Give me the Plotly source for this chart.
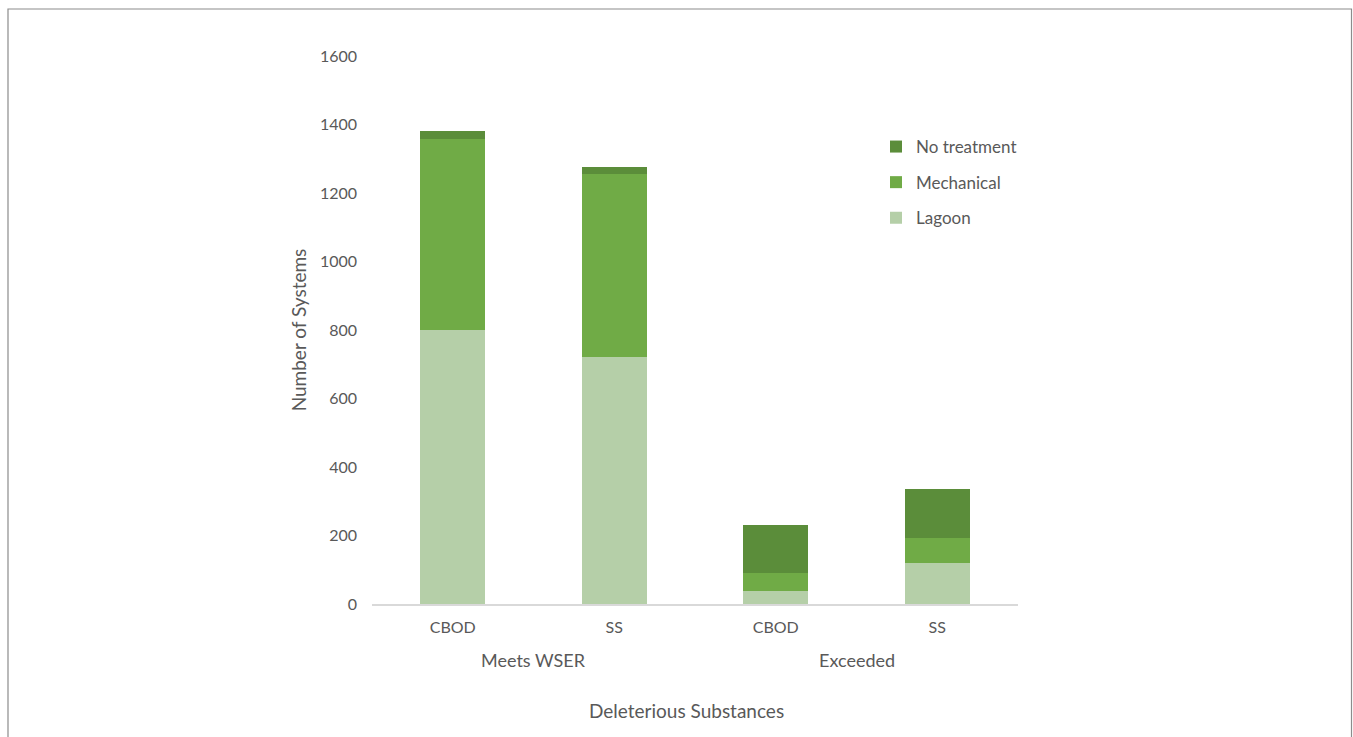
import plotly.graph_objects as go

# Number of wastewater systems by treatment type, grouped by compliance status
groups = ["Meets WSER", "Meets WSER", "Exceeded", "Exceeded"]
substances = ["CBOD", "SS", "CBOD", "SS"]

lagoon = [800, 720, 38, 120]
mechanical = [558, 535, 52, 72]
no_treatment = [24, 22, 140, 143]

y_ticks = [0, 200, 400, 600, 800, 1000, 1200, 1400, 1600]

W, H = 1353, 737
L, R, T, B = 372, 1018, 56, 604  # plot area edges in pixels

FONT = "Lato"
GREY = "#595959"


def px_x(p):
    return (p - L) / (R - L)


def px_y(p):
    return (B - p) / (B - T)


# one category per (group, substance) pair; only the substance is shown as tick text
keys = [f"{g}|{s}" for g, s in zip(groups, substances)]

fig = go.Figure()
series = [
    ("Lagoon", lagoon, "#B5CFA8", 3),
    ("Mechanical", mechanical, "#70AB46", 2),
    ("No treatment", no_treatment, "#5B8D3A", 1),
]
for name, vals, color, rank in series:
    fig.add_trace(go.Bar(
        x=keys, y=vals, name=name, legendgroup=name, legendrank=rank,
        marker=dict(color=color, line=dict(width=0)),
        hoverinfo="y+name",
    ))

fig.update_layout(
    width=W, height=H,
    margin=dict(l=L, r=W - R, t=T, b=H - B),
    barmode="stack",
    bargap=0.6,
    paper_bgcolor="white",
    plot_bgcolor="white",
    font=dict(family=FONT, size=16, color=GREY),
    showlegend=True,
    legend=dict(
        x=px_x(876), y=px_y(129), xanchor="left", yanchor="top",
        traceorder="grouped", tracegroupgap=10.5,
        font=dict(family=FONT, size=17, color=GREY),
        bgcolor="rgba(0,0,0,0)",
        itemwidth=30,
    ),
    xaxis=dict(
        type="category",
        categoryorder="array", categoryarray=keys,
        tickvals=keys, ticktext=substances,
        showline=True, linecolor="#D9D9D9", linewidth=1.5,
        ticks="", showgrid=False, zeroline=False,
        ticklabelstandoff=8,
        tickfont=dict(family=FONT, size=16, color=GREY),
    ),
    yaxis=dict(
        range=[0, 1600],
        tickvals=y_ticks,
        ticktext=[str(v) for v in y_ticks],
        showgrid=False, zeroline=False, showline=False, ticks="",
        ticklabelstandoff=14,
        tickfont=dict(family=FONT, size=16, color=GREY),
        title=dict(text="Number of Systems", standoff=8,
                   font=dict(family=FONT, size=19, color=GREY)),
    ),
)

# Group labels centred under each pair of bars
group_names = list(dict.fromkeys(groups))
for gname in group_names:
    idx = [i for i, g in enumerate(groups) if g == gname]
    fig.add_annotation(
        text=gname, xref="x", yref="paper",
        x=sum(idx) / len(idx), y=px_y(660), showarrow=False,
        xanchor="center", yanchor="middle",
        font=dict(family=FONT, size=18, color=GREY),
    )

fig.add_annotation(
    text="Deleterious Substances", xref="paper", yref="paper",
    x=px_x(686), y=px_y(710), showarrow=False,
    xanchor="center", yanchor="middle",
    font=dict(family=FONT, size=19, color=GREY),
)

# Outer frame around the chart
fig.add_shape(
    type="rect", xref="paper", yref="paper",
    x0=px_x(8), x1=px_x(1351.5), y0=px_y(760), y1=px_y(9),
    line=dict(color="#8C8C8C", width=1.2), fillcolor="rgba(0,0,0,0)",
    layer="below",
)

fig.write_html("out.html")
